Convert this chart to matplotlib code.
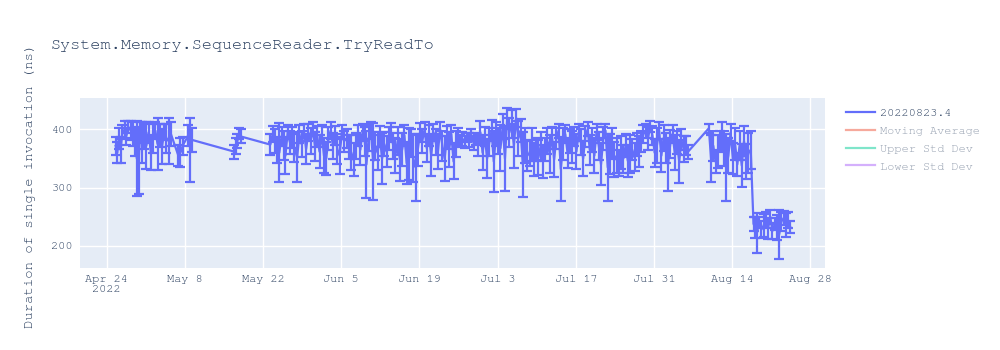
import matplotlib
matplotlib.use("Agg")
import matplotlib.pyplot as plt
import matplotlib.dates as mdates
from matplotlib import font_manager
from matplotlib.lines import Line2D
import pandas as pd

TITLE = "System.Memory.SequenceReader.TryReadTo"
Y_LABEL = "Duration of single invocation (ns)"
RUN_NAME = "20220823.4"
HIDDEN_SERIES = ["Moving Average", "Upper Std Dev", "Lower Std Dev"]
HIDDEN_COLORS = ["#EF553B", "#00CC96", "#AB63FA"]
LINE_COLOR = "#636EFA"
TEXT_COLOR = "#2a3f5f"
START = pd.Timestamp("2022-04-24")

# run time, in days after START
run_day = [
    1.6, 1.9, 2.2, 2.5, 2.8, 3.2, 3.5, 3.9, 4.3, 4.7, 5.0, 5.4, 5.7, 6.0, 6.3, 6.7, 7.1,
    7.5, 7.9, 8.3, 8.7, 9.1, 9.5, 9.9, 10.3, 10.7, 11.1, 11.5, 12.8, 13.2, 13.6, 14.6, 15.0, 15.3,
    22.8, 23.1, 23.4, 23.7, 24.0,
    29.3, 29.7, 30.1, 30.5, 30.9, 31.3, 31.7, 32.0, 32.4, 32.8, 33.2, 33.6, 34.1, 34.5, 34.9, 35.3, 35.7,
    36.1, 36.5, 36.9, 37.3, 37.7, 38.1, 38.5, 38.9, 39.3, 39.7, 40.1, 40.5, 40.9, 41.3, 41.7, 42.1, 42.5,
    43.0, 43.4, 43.8, 44.2, 44.6, 45.0, 45.4, 45.8, 46.2, 46.5, 46.9, 47.3, 47.7, 48.1, 48.5, 48.9, 49.3, 49.7,
    50.1, 50.5, 50.9, 51.3, 51.7, 52.1, 52.5, 52.9, 53.3, 53.7, 54.1, 54.5, 54.9, 55.3, 55.7, 56.1, 56.5, 56.9,
    57.3, 57.7, 58.1, 58.5, 58.9, 59.3, 59.7, 60.1, 60.5, 60.9, 61.3, 61.7, 62.1, 62.5, 62.9, 63.3, 63.7,
    64.1, 64.5, 64.9, 65.3, 65.7, 66.1, 66.5, 66.9, 67.3, 67.7, 68.1, 68.5, 68.9, 69.3, 69.7,
    70.1, 70.5, 70.9, 71.3, 71.7, 72.1, 72.5, 72.9, 73.3, 73.7, 74.1, 74.5, 74.9, 75.3, 75.7, 76.1, 76.5, 76.9,
    77.3, 77.7, 78.1, 78.5, 78.9, 79.3, 79.7, 80.1, 80.5, 80.9, 81.3, 81.7, 82.1, 82.5, 82.9, 83.3, 83.7,
    84.1, 84.5, 84.9, 85.3, 85.7, 86.1, 86.5, 86.9, 87.3, 87.7, 88.1, 88.5, 88.9, 89.3, 89.7, 90.1, 90.5, 90.9,
    91.3, 91.7, 92.1, 92.5, 92.9, 93.3, 93.7, 94.1, 94.5, 94.9, 95.3, 95.7, 96.1, 96.5, 96.9, 97.3, 97.7,
    98.1, 98.5, 98.9, 99.3, 99.7, 100.1, 100.5, 100.9, 101.3, 101.7, 102.1, 102.5, 102.9, 103.3, 103.7, 104.1,
    107.8, 108.2, 108.6, 109.0, 109.4, 109.8, 110.2, 110.6, 110.9, 111.3,
    111.7, 112.1, 112.5, 112.9, 113.3, 113.7, 114.1, 114.5, 114.9, 115.3,
    115.8, 116.1, 116.4, 116.8, 117.2, 117.6, 118.0, 118.4, 118.8, 119.2,
    119.6, 120.0, 120.4, 120.8, 121.2, 121.6, 122.0, 122.4,
]

# mean duration per run (ns)
duration_ns = [
    372, 360, 385, 365, 395, 400, 388, 404, 398, 392, 380, 350, 345, 395, 378, 388, 372,
    395, 360, 385, 398, 375, 390, 370, 396, 385, 380, 392, 356, 360, 372, 390, 365, 382,
    362, 372, 380, 393, 388,
    374, 392, 380, 365, 360, 388, 372, 355, 395, 378, 386, 368, 352, 392, 375, 398, 366,
    395, 380, 400, 370, 388, 362, 392, 355, 350, 384, 398, 372, 390, 366, 355, 395, 380,
    385, 370, 360, 348, 372, 390, 365, 395, 380, 340, 385, 398, 345, 372, 360, 388, 350, 375,
    362, 385, 395, 372, 356, 380, 348, 366, 390, 342, 358, 376, 350, 335, 365, 395, 380, 400,
    368, 390, 355, 395, 378, 362, 400, 372, 350, 386, 365, 392, 345, 375, 388, 380, 384,
    378, 386, 382, 390, 376, 384, 372, 395, 360, 388, 350, 378, 398, 345, 392,
    380, 368, 405, 350, 418, 395, 410, 372, 420, 385, 398, 340, 372, 355, 360, 374, 348, 365,
    352, 372, 345, 366, 380, 358, 390, 348, 385, 398, 332, 375, 392, 360, 380, 370, 388,
    362, 395, 378, 350, 388, 400, 365, 382, 355, 396, 372, 340, 384, 398, 335, 358, 376, 348,
    355, 342, 360, 350, 372, 346, 358, 365, 352, 374, 362, 380, 392, 398, 384, 405, 390,
    360, 372, 398, 355, 385, 368, 340, 375, 392, 360, 378, 345, 382, 366, 372, 362,
    402, 350, 372, 345, 362, 380, 388, 368, 335, 355,
    395, 350, 375, 340, 372, 338, 380, 345, 360, 365,
    238, 232, 222, 240, 228, 235, 245, 230, 250, 226,
    238, 232, 220, 242, 248, 236, 244, 232,
]

# standard deviation per run (ns)
stddev_ns = [
    15, 18, 18, 22, 12, 15, 14, 10, 16, 20, 25, 65, 55, 18, 35, 22, 40,
    18, 30, 25, 15, 45, 20, 30, 14, 25, 40, 20, 18, 25, 15, 18, 55, 20,
    12, 14, 12, 10, 12,
    18, 14, 20, 22, 51, 16, 25, 32, 12, 20, 18, 24, 43, 15, 22, 12, 26,
    14, 22, 12, 25, 18, 28, 16, 30, 28, 20, 14, 22, 16, 26, 32, 12, 18,
    16, 20, 30, 28, 22, 18, 26, 14, 25, 58, 22, 14, 66, 24, 30, 18, 44, 20,
    26, 20, 16, 22, 30, 24, 36, 28, 18, 36, 44, 24, 40, 58, 28, 16, 20, 12,
    24, 18, 35, 14, 22, 30, 12, 26, 38, 20, 30, 16, 30, 22, 14, 10, 12,
    10, 8, 12, 10, 12, 10, 18, 20, 30, 16, 34, 24, 18, 52, 20,
    22, 40, 22, 56, 18, 25, 24, 38, 15, 30, 20, 56, 30, 26, 22, 28, 28, 20,
    30, 24, 28, 20, 22, 32, 14, 30, 18, 12, 55, 28, 16, 26, 20, 28, 16,
    30, 14, 22, 30, 18, 12, 26, 20, 30, 14, 24, 36, 20, 12, 58, 34, 26, 30,
    30, 22, 28, 24, 20, 28, 32, 18, 24, 20, 26, 18, 16, 12, 20, 10, 16,
    24, 30, 14, 28, 22, 26, 46, 24, 16, 30, 20, 37, 18, 22, 16, 12,
    8, 40, 26, 20, 28, 18, 24, 30, 58, 30,
    14, 26, 28, 20, 25, 37, 26, 30, 34, 33,
    12, 18, 34, 10, 14, 20, 14, 18, 12, 14,
    10, 22, 42, 16, 12, 20, 14, 10,
]

# prefer a serif monospace face when one is installed
installed = {f.name for f in font_manager.fontManager.ttflist}
mono = [f for f in ["Courier New", "Nimbus Mono PS", "FreeMono", "Liberation Mono"] if f in installed]
plt.rcParams["font.family"] = mono + ["DejaVu Sans Mono"]

run_time = [START + pd.Timedelta(days=d) for d in run_day]

fig = plt.figure(figsize=(10, 3.5), dpi=100)
ax = fig.add_axes([0.08, 0.234, 0.745, 0.486])
ax.set_facecolor("#E5ECF6")

ax.errorbar(run_time, duration_ns, yerr=stddev_ns, color=LINE_COLOR, lw=1.6,
            elinewidth=1.6, capsize=3.6, capthick=1.6, zorder=3)

ax.set_xlim(START - pd.Timedelta(days=4.78), START + pd.Timedelta(days=128.6))
ax.set_ylim(162, 454)

ticks = pd.date_range(START, periods=10, freq="14D")
labels = [t.strftime("%b ") + str(t.day) for t in ticks]
labels[0] += "\n2022"
ax.set_xticks(mdates.date2num(ticks))
ax.set_xticklabels(labels, fontsize=8.6, color=TEXT_COLOR, va="top")
ax.set_yticks([200, 300, 400])
ax.tick_params(axis="y", labelsize=8.6, labelcolor=TEXT_COLOR, length=0, pad=5)
ax.tick_params(axis="x", length=0, pad=5)
ax.grid(True, color="white", lw=1)
ax.set_axisbelow(True)
for s in ax.spines.values():
    s.set_visible(False)

fig.text(0.05, 1 - 45 / 350, TITLE, fontsize=12.2, color=TEXT_COLOR, va="center", ha="left")
fig.text(0.031, 1 - 186 / 350, Y_LABEL, fontsize=10, color=TEXT_COLOR, rotation=90,
         va="center", ha="center")

handles = [Line2D([], [], color=LINE_COLOR, lw=1.6)]
handles += [Line2D([], [], color=c, lw=1.6, alpha=0.5) for c in HIDDEN_COLORS]
leg = fig.legend(handles, [RUN_NAME] + HIDDEN_SERIES, loc="upper left",
                 bbox_to_anchor=(0.846, 1 - 108 / 350), frameon=False, fontsize=8.6,
                 handlelength=2.4, handletextpad=0.45, labelspacing=0.62,
                 borderpad=0, borderaxespad=0)
for i, t in enumerate(leg.get_texts()):
    t.set_color(TEXT_COLOR)
    if i > 0:
        t.set_alpha(0.5)

fig.savefig("out.png", dpi=100)
